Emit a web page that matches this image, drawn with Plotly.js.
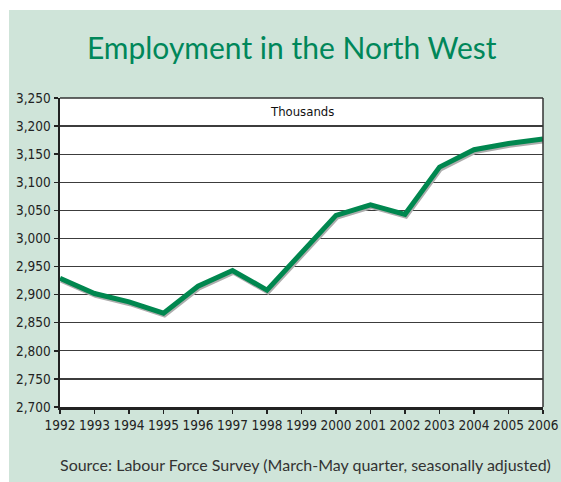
<!DOCTYPE html>
<html>
<head>
<meta charset="utf-8">
<script src="https://cdn.plot.ly/plotly-3.0.1.min.js"></script>
<style>html,body{margin:0;padding:0;background:#fff;}#chart{width:561px;height:482px;}</style>
</head>
<body>
<div id="chart"></div>
<script>
var years = [1992,1993,1994,1995,1996,1997,1998,1999,2000,2001,2002,2003,2004,2005,2006];
var employment = [2929,2902,2887,2867,2915,2943,2908,2975,3041,3060,3043,3127,3158,3169,3177];
var yTicks = [2700,2750,2800,2850,2900,2950,3000,3050,3100,3150,3200,3250];
var yTickText = ['2,700','2,750','2,800','2,850','2,900','2,950','3,000','3,050','3,100','3,150','3,200','3,250'];

var tickFont = {family: '"Liberation Sans Narrow","DejaVu Sans Condensed",sans-serif', size: 13.5, color: '#222'};

var base = {
  x: years, y: employment, xaxis: 'x', yaxis: 'y',
  mode: 'lines', line: {color: 'rgba(0,0,0,0)', width: 0},
  hoverinfo: 'skip', showlegend: false
};
var shadow = {
  x: years, y: employment, xaxis: 'x2', yaxis: 'y2',
  mode: 'lines', line: {color: '#adadad', width: 4.5},
  hoverinfo: 'skip', showlegend: false
};
var main = {
  x: years, y: employment, xaxis: 'x3', yaxis: 'y3',
  mode: 'lines', line: {color: '#00874f', width: 5},
  showlegend: false
};

var layout = {
  width: 561, height: 482,
  margin: {l: 60, r: 18, t: 98, b: 75},
  paper_bgcolor: '#ffffff',
  plot_bgcolor: 'rgba(0,0,0,0)',
  title: {
    text: 'Employment in the North West',
    font: {family: 'Lato, "Open Sans", sans-serif', size: 30, color: '#00875a'},
    x: 0.52, xanchor: 'center', y: 0.9, yanchor: 'middle'
  },
  xaxis: {
    range: [1992, 2006], tickvals: years, ticktext: years.map(String),
    showgrid: false, zeroline: false,
    showline: true, linecolor: '#222', linewidth: 2.5,
    ticks: 'outside', ticklen: 4, tickwidth: 1.5, tickcolor: '#222',
    tickfont: tickFont, fixedrange: true
  },
  yaxis: {
    range: [2700, 3250], tickvals: yTicks, ticktext: yTickText,
    showgrid: true, gridcolor: '#3c3c3c', gridwidth: 1.2, zeroline: false,
    showline: true, linecolor: '#222', linewidth: 2.5,
    ticks: 'outside', ticklen: 4, tickwidth: 1.5, tickcolor: '#222',
    tickfont: tickFont, fixedrange: true
  },
  xaxis2: {overlaying: 'x', range: [1992 - 0.03, 2006 - 0.03], visible: false, fixedrange: true},
  yaxis2: {overlaying: 'y', range: [2700 + 3.6, 3250 + 3.6], visible: false, fixedrange: true},
  xaxis3: {overlaying: 'x', range: [1992, 2006], visible: false, fixedrange: true},
  yaxis3: {overlaying: 'y', range: [2700, 3250], visible: false, fixedrange: true},
  shapes: [
    {type: 'rect', xref: 'paper', yref: 'paper', layer: 'below',
     x0: -51/483, x1: 1 + 18/483, y0: -75/309, y1: 1 + 88/309,
     fillcolor: '#cfe4d9', line: {width: 0}},
    {type: 'rect', xref: 'paper', yref: 'paper', layer: 'below',
     x0: 0, x1: 1, y0: 0, y1: 1,
     fillcolor: '#ffffff', line: {width: 0}},
    {type: 'line', xref: 'paper', yref: 'paper', x0: 0, x1: 1, y0: 1, y1: 1,
     line: {color: '#333', width: 1.5}},
    {type: 'line', xref: 'paper', yref: 'paper', x0: 1, x1: 1, y0: 0, y1: 1,
     line: {color: '#333', width: 1.5}}
  ],
  annotations: [
    {text: 'Thousands', xref: 'paper', yref: 'paper', x: 0.502, y: 0.955,
     xanchor: 'center', yanchor: 'middle', showarrow: false,
     font: {family: '"Liberation Sans Narrow","DejaVu Sans Condensed",sans-serif', size: 13, color: '#111'}},
    {text: 'Source: Labour Force Survey (March-May quarter, seasonally adjusted)',
     xref: 'paper', yref: 'paper', x: 1.02, y: -57/309,
     xanchor: 'right', yanchor: 'middle', showarrow: false,
     font: {family: 'Lato, "Open Sans", sans-serif', size: 16, color: '#333'}}
  ]
};

Plotly.newPlot('chart', [base, shadow, main], layout, {displayModeBar: false, staticPlot: true});
</script>
</body>
</html>
